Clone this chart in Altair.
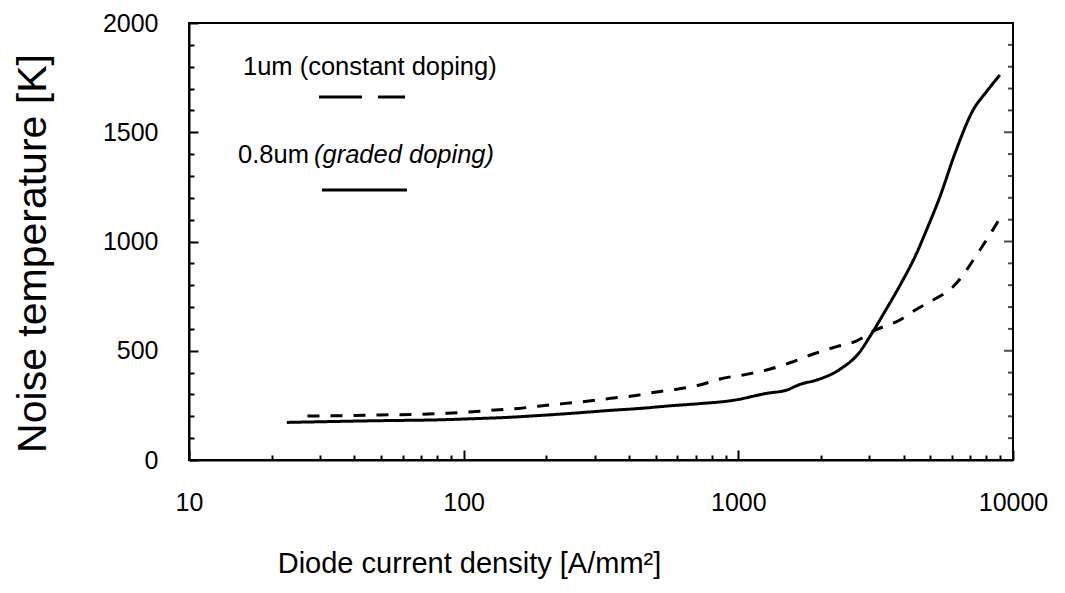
import altair as alt
import pandas as pd

FONT = "Liberation Sans"

# ---- data ----
graded_x = [22.7, 49.6, 82, 108, 144, 190, 250, 332, 438, 577, 724, 958, 1268, 1500,
            1676, 1927, 2344, 2773, 3015, 3470, 3900, 4456, 4845, 5420, 6150, 7160, 8010, 8955]
graded_y = [172, 180, 184, 189, 195, 204, 214, 226, 236, 249, 258, 273, 305, 320,
            346, 366, 415, 496, 566, 694, 805, 946, 1053, 1205, 1404, 1602, 1686, 1762]
constant_x = [27, 49.6, 87, 108, 130, 158, 190, 230, 281, 341, 410, 497, 597, 724,
              857, 1071, 1268, 1542, 1875, 2281, 2697, 3099, 3873, 4456, 5120, 6050, 7580, 8955]
constant_y = [201, 206, 214, 221, 229, 236, 247, 258, 269, 282, 293, 310, 324, 343,
              371, 392, 412, 445, 485, 519, 545, 590, 641, 690, 732, 793, 961, 1106]

series_names = ["0.8um (graded doping)", "1um (constant doping)"]
legend_texts = ["1um (constant doping)", "0.8um", "(graded doping)"]

x_tick_values = [10, 20, 30, 40, 50, 60, 70, 80, 90,
                 100, 200, 300, 400, 500, 600, 700, 800, 900,
                 1000, 2000, 3000, 4000, 5000, 6000, 7000, 8000, 9000, 10000]
x_label_values = [10, 100, 1000, 10000]
y_tick_values = list(range(0, 2001, 100))
y_label_step = 500
x_range = [10, 10000]
y_range = [0, 2000]

x_title = "Diode current density [A/mm²]"
y_title = "Noise temperature [K]"

df = pd.concat([
    pd.DataFrame({"j": graded_x, "t": graded_y, "series": series_names[0]}),
    pd.DataFrame({"j": constant_x, "t": constant_y, "series": series_names[1]}),
], ignore_index=True)

ydf = pd.DataFrame({"v": y_tick_values})
ydf["major"] = ydf["v"] % y_label_step == 0

W, H = 824, 437
xs = alt.Scale(type="log", domain=x_range)
ys = alt.Scale(domain=y_range)

x_major_test = "indexof(%s, datum.value) >= 0" % str(x_label_values).replace(" ", "")
y_major_test = "datum.value %% %d === 0" % y_label_step

# negative tick sizes point the ticks into the plot
x_tick_size = alt.ExprRef(expr="%s ? -10 : -5" % x_major_test)
y_tick_size = alt.ExprRef(expr="%s ? -9 : -5" % y_major_test)

x_axis = alt.Axis(
    orient="bottom", values=x_tick_values, format="d",
    labelExpr="%s ? datum.label : ''" % x_major_test,
    labelOverlap=False, labelBound=False,
    ticks=True, tickSize=x_tick_size, tickWidth=2, tickColor="black",
    domain=True, domainColor="black", domainWidth=2,
    grid=False, labelFontSize=25, labelFont=FONT, labelColor="black", labelPadding=40,
    labelFlush=False, title=x_title, titleFont=FONT, titleFontSize=29,
    titleFontWeight="normal", titleColor="black", titleX=280, titleY=103,
    titleAlign="center", titleBaseline="middle")
y_axis = alt.Axis(
    orient="left", values=y_tick_values, format="d",
    labelExpr="%s ? datum.label : ''" % y_major_test,
    labelOverlap=False,
    ticks=True, tickSize=y_tick_size, tickWidth=2, tickColor="black",
    domain=True, domainColor="black", domainWidth=2, grid=False,
    labelFontSize=25, labelFont=FONT, labelColor="black", labelPadding=40,
    labelFlush=False, title=y_title, titleFont=FONT, titleFontSize=41,
    titleFontWeight="normal", titleColor="black", titleX=-156, titleY=230,
    titleAngle=270, titleAlign="center", titleBaseline="middle")

main = alt.Chart(df).mark_line(color="black", strokeWidth=3, interpolate="monotone").encode(
    x=alt.X("j:Q", scale=xs, axis=x_axis),
    y=alt.Y("t:Q", scale=ys, axis=y_axis),
    strokeDash=alt.StrokeDash("series:N", scale=alt.Scale(domain=series_names,
                              range=[[1, 0], [12, 11]]), legend=None),
    detail="series:N",
)

one = alt.Chart(pd.DataFrame({"k": [0]}))

# plot frame drawn through the scales
frame = one.mark_rect(fillOpacity=0, stroke="black", strokeWidth=2).encode(
    x=alt.X(datum=x_range[0], scale=xs, axis=x_axis),
    x2=alt.X2(datum=x_range[1]),
    y=alt.Y(datum=y_range[0], scale=ys, axis=y_axis),
    y2=alt.Y2(datum=y_range[1]),
)

# inward ticks on the right edge
right_minor = alt.Chart(ydf[~ydf["major"]]).mark_tick(
    orient="horizontal", color="black", thickness=2, size=5, xOffset=-2.5).encode(
    x=alt.X(datum=x_range[1], scale=xs, axis=x_axis),
    y=alt.Y("v:Q", scale=ys, axis=y_axis),
)
right_major = alt.Chart(ydf[ydf["major"]]).mark_tick(
    orient="horizontal", color="black", thickness=2, size=9, xOffset=-4.5).encode(
    x=alt.X(datum=x_range[1], scale=xs, axis=x_axis),
    y=alt.Y("v:Q", scale=ys, axis=y_axis),
)

leg_dash = one.mark_rule(color="black", strokeWidth=3, strokeDash=[43, 16]).encode(
    x=alt.value(130), x2=alt.value(216), y=alt.value(74))
leg_solid = one.mark_rule(color="black", strokeWidth=3).encode(
    x=alt.value(133), x2=alt.value(218), y=alt.value(167))
leg_t1 = one.mark_text(align="left", baseline="middle", font=FONT, fontSize=25.5,
                       color="black").encode(
    x=alt.value(54), y=alt.value(44), text=alt.value(legend_texts[0]))
leg_t2 = one.mark_text(align="left", baseline="middle", font=FONT, fontSize=25.5,
                       color="black").encode(
    x=alt.value(49), y=alt.value(132), text=alt.value(legend_texts[1]))
leg_t3 = one.mark_text(align="left", baseline="middle", font=FONT, fontSize=25.5,
                       fontStyle="italic", color="black").encode(
    x=alt.value(125), y=alt.value(132), text=alt.value(legend_texts[2]))

chart = alt.layer(
    main, frame, right_minor, right_major, leg_dash, leg_solid, leg_t1, leg_t2, leg_t3
).properties(
    width=W, height=H,
    background="white",
    autosize=alt.AutoSizeParams(type="none"),
    padding={"left": 181, "top": 15, "right": 40, "bottom": 125},
).configure_view(stroke="black", strokeWidth=2)

chart.save("out.html", embed_options={"renderer": "svg", "actions": False})
